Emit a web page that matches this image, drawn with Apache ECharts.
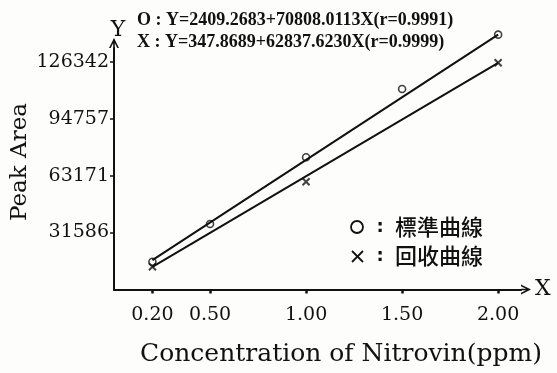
<!DOCTYPE html>
<html>
<head>
<meta charset="utf-8">
<script src="https://cdn.jsdelivr.net/npm/echarts@6/dist/echarts.min.js"></script>
<style>
html,body{margin:0;padding:0;background:#fdfdfb;}
#chart{width:557px;height:373px;}
</style>
</head>
<body>
<div id="chart"></div>
<script>
// ---- data ----
const xTicks = [0.2, 0.5, 1.0, 1.5, 2.0];
const yTicks = [31586, 63171, 94757, 126342];
const standardX = [0.2, 0.5, 1.0, 1.5, 2.0];
const standardY = [15400, 36300, 73300, 111200, 141300];
const recoveryX = [0.2, 1.0, 2.0];
const recoveryY = [12600, 59700, 125700];
const standardFitX = [0.2, 2.0];
const standardFitY = [16300, 141300];
const recoveryFitX = [0.2, 2.0];
const recoveryFitY = [12500, 125700];
const eqStandard = 'O : Y=2409.2683+70808.0113X(r=0.9991)';
const eqRecovery = 'X : Y=347.8689+62837.6230X(r=0.9999)';
const legendStandard = '標準曲線';
const legendRecovery = '回收曲線';
const xTitle = 'Concentration of Nitrovin(ppm)';
const yTitle = 'Peak Area';

const pairs = (xs, ys) => xs.map((x, i) => [x, ys[i]]);
const INK = '#111111';
const SERIF = '"DejaVu Serif", serif';
// open arrow head with a short shaft, pointing along the axis
const arrowHead = 'path://M0,10L5,0L10,10L8.3,10L5,3.4L1.7,10Z M4.2,1 L5.8,1 L5.8,10 L4.2,10 Z';

const chart = echarts.init(document.getElementById('chart'), null, {renderer: 'canvas'});
chart.setOption({
  backgroundColor: '#fdfdfb',
  animation: false,
  grid: {left: 114, right: 36, top: 48, bottom: 83.5},
  xAxis: {
    type: 'value', min: 0, max: 2.119,
    name: 'X', nameLocation: 'end', nameGap: 14,
    nameTextStyle: {fontFamily: SERIF, fontSize: 22, color: INK, verticalAlign: 'middle'},
    axisLine: {show: true, symbol: ['none', arrowHead], symbolSize: [12, 10], symbolOffset: [0, 5], lineStyle: {color: INK, width: 2}},
    axisTick: {show: true, inside: false, customValues: xTicks, length: 4, lineStyle: {color: INK, width: 2.5}},
    axisLabel: {customValues: xTicks, formatter: v => v.toFixed(2), fontFamily: SERIF, fontSize: 19, color: INK, margin: 16},
    splitLine: {show: false}
  },
  yAxis: {
    type: 'value', min: 0, max: 133900,
    name: 'Y', nameLocation: 'end', nameGap: 7,
    nameTextStyle: {fontFamily: SERIF, fontSize: 22, color: INK, padding: [0, 0, 0, 8]},
    axisLine: {show: true, symbol: ['none', arrowHead], symbolSize: [12, 10], symbolOffset: [0, 5], lineStyle: {color: INK, width: 2}},
    axisTick: {show: true, customValues: yTicks, length: 4, lineStyle: {color: INK, width: 1.5}},
    axisLabel: {customValues: yTicks, formatter: v => String(v), fontFamily: SERIF, fontSize: 19, color: INK, margin: 5},
    splitLine: {show: false}
  },
  series: [
    {type: 'line', data: pairs(standardFitX, standardFitY), symbol: 'none', clip: false,
     lineStyle: {color: INK, width: 2}},
    {type: 'line', data: pairs(recoveryFitX, recoveryFitY), symbol: 'none', clip: false,
     lineStyle: {color: INK, width: 2}},
    {type: 'scatter', data: pairs(standardX, standardY), symbol: 'circle', symbolSize: 7, clip: false,
     itemStyle: {color: '#fdfdfb', borderColor: INK, borderWidth: 1.6}},
    {type: 'scatter', data: pairs(recoveryX, recoveryY), symbol: 'path://M0,0 L10,10 M10,0 L0,10', symbolSize: 7, clip: false,
     itemStyle: {color: 'none', borderColor: INK, borderWidth: 2}}
  ],
  graphic: [
    {type: 'text', x: 137, y: 20, style: {text: eqStandard, font: 'bold 18px "Liberation Serif", serif', fill: INK, verticalAlign: 'middle'}},
    {type: 'text', x: 137, y: 42, style: {text: eqRecovery, font: 'bold 18px "Liberation Serif", serif', fill: INK, verticalAlign: 'middle'}},
    {type: 'text', x: 341, y: 354, style: {text: xTitle, font: '25px "DejaVu Serif", serif', fill: INK, align: 'center', verticalAlign: 'middle'}},
    {type: 'text', x: 20, y: 162, rotation: Math.PI / 2, style: {text: yTitle, font: '23px "DejaVu Serif", serif', fill: INK, align: 'center', verticalAlign: 'middle'}},
    {type: 'circle', shape: {cx: 357, cy: 227, r: 6}, style: {fill: 'none', stroke: INK, lineWidth: 1.8}},
    {type: 'line', shape: {x1: 352, y1: 251, x2: 363, y2: 262}, style: {stroke: INK, lineWidth: 1.8}},
    {type: 'line', shape: {x1: 363, y1: 251, x2: 352, y2: 262}, style: {stroke: INK, lineWidth: 1.8}},
    {type: 'text', x: 380, y: 227, style: {text: ':', font: 'bold 18px "DejaVu Sans", sans-serif', fill: INK, align: 'center', verticalAlign: 'middle'}},
    {type: 'text', x: 380, y: 256, style: {text: ':', font: 'bold 18px "DejaVu Sans", sans-serif', fill: INK, align: 'center', verticalAlign: 'middle'}},
    {type: 'text', x: 395, y: 227, style: {text: legendStandard, font: '500 22px "Noto Sans CJK TC", sans-serif', fill: INK, verticalAlign: 'middle'}},
    {type: 'text', x: 395, y: 256, style: {text: legendRecovery, font: '500 22px "Noto Sans CJK TC", sans-serif', fill: INK, verticalAlign: 'middle'}}
  ]
});
</script>
</body>
</html>
